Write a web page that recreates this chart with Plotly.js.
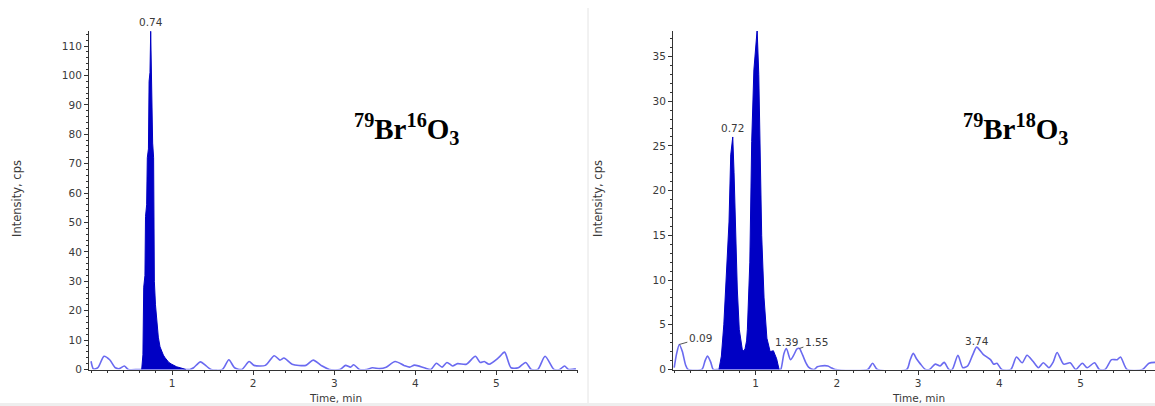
<!DOCTYPE html>
<html>
<head>
<meta charset="utf-8">
<script src="https://cdn.plot.ly/plotly-3.0.1.min.js"></script>
<style>
  html, body { margin: 0; padding: 0; background: #ffffff; }
  #chart { width: 1155px; height: 406px; }
</style>
</head>
<body>
<div id="chart"></div>
<script>
// ---------- Data (time in min, intensity in cps) ----------
// Left panel: 79Br16O3 - baseline noise
const leftNoiseT = [0.0, 0.03, 0.085, 0.16, 0.23, 0.30, 0.35, 0.41, 0.46, 0.60, 1.17, 1.22, 1.265, 1.35, 1.42, 1.48, 1.62, 1.70, 1.77, 1.86, 1.95, 2.01, 2.15, 2.26, 2.33, 2.38, 2.48, 2.65, 2.74, 2.85, 2.94, 3.07, 3.14, 3.20, 3.24, 3.31, 3.40, 3.47, 3.56, 3.64, 3.75, 3.86, 3.93, 3.99, 4.11, 4.19, 4.26, 4.33, 4.39, 4.46, 4.52, 4.63, 4.74, 4.80, 4.85, 4.91, 5.03, 5.10, 5.18, 5.27, 5.36, 5.43, 5.51, 5.60, 5.71, 5.78, 5.84, 5.89, 5.98];
const leftNoiseI = [2.8, 0.2, 0.6, 4.5, 3.3, 0.6, 0.3, 1.2, 0, 0, 0, 0, 0.6, 2.6, 1.2, 0, 0, 3.3, 0.6, 0, 2.7, 1.4, 1.4, 4.7, 3.2, 3.9, 1.8, 1.4, 3.2, 1.2, 0, 0, 1.4, 0.8, 1.6, 0, 0, 0.6, 0.3, 0.8, 2.7, 1.4, 0.8, 1.5, 0.6, 0, 2.1, 0.8, 2.4, 1.2, 2.0, 1.8, 4.5, 2.4, 2.7, 1.8, 4.1, 5.9, 0.6, 0.6, 2.4, 0, 0, 4.5, 0, 0, 1.2, 0, 0.2];
// Left panel: integrated peak (RT 0.74)
const leftPeakT = [0.625, 0.640, 0.650, 0.665, 0.672, 0.686, 0.694, 0.708, 0.716, 0.727, 0.736, 0.744, 0.752, 0.760, 0.772, 0.781, 0.795, 0.810, 0.830, 0.851, 0.872, 0.892, 0.913, 0.933, 0.960, 0.995, 1.030, 1.057, 1.100, 1.140, 1.170];
const leftPeakI = [0, 5, 28, 32, 52, 56, 72, 75, 98, 101, 115, 102, 100, 77, 72, 30, 22, 16, 11, 7.7, 6, 4.9, 4, 3.2, 2.4, 1.8, 1.3, 0.9, 0.6, 0.3, 0];

// Right panel: 79Br18O3 - baseline noise
const rightNoiseT = [0.0, 0.03, 0.063, 0.10, 0.14, 0.17, 0.34, 0.38, 0.41, 0.45, 0.48, 0.55, 1.29, 1.31, 1.35, 1.38, 1.43, 1.47, 1.51, 1.54, 1.58, 1.62, 1.66, 1.72, 1.76, 1.80, 1.89, 1.93, 1.98, 2.38, 2.44, 2.50, 2.86, 2.90, 2.94, 2.98, 3.03, 3.09, 3.14, 3.21, 3.27, 3.32, 3.38, 3.42, 3.49, 3.55, 3.61, 3.67, 3.72, 3.80, 3.89, 3.93, 3.97, 4.03, 4.14, 4.21, 4.28, 4.34, 4.41, 4.48, 4.54, 4.61, 4.66, 4.71, 4.79, 4.87, 4.94, 5.02, 5.08, 5.17, 5.23, 5.30, 5.38, 5.45, 5.49, 5.57, 5.76, 5.84, 5.92];
const rightNoiseI = [0.2, 1.8, 2.8, 2.0, 0.5, 0, 0, 1.0, 1.5, 0.8, 0, 0, 0, 0, 1.8, 2.35, 1.1, 1.6, 2.3, 2.35, 1.6, 0.75, 0.2, 0, 0.3, 0.4, 0.4, 0.2, 0, 0, 0.7, 0, 0, 1.0, 1.8, 1.2, 0.6, 0, 0, 0.6, 0.4, 0.8, 0, 0, 1.6, 0.2, 0.4, 1.6, 2.5, 1.7, 1.1, 0.6, 0.7, 0, 0, 1.4, 0.75, 1.6, 0.95, 0.2, 0.75, 0.2, 0.8, 1.9, 0.6, 0.75, 0, 0.7, 0.2, 0.75, 0, 0, 1.1, 1.1, 1.4, 0, 0, 0.7, 0.8];
// Right panel: integrated peaks (RT 0.72 and 1.02)
const rightPeakT = [0.55, 0.58, 0.61, 0.645, 0.674, 0.695, 0.72, 0.736, 0.756, 0.776, 0.80, 0.82, 0.838, 0.855, 0.871, 0.89, 0.90, 0.93, 0.953, 0.98, 1.006, 1.02, 1.04, 1.055, 1.076, 1.105, 1.14, 1.18, 1.22, 1.26, 1.29];
const rightPeakI = [0, 1.5, 5, 10.5, 16.5, 24, 26, 22, 15, 9, 4.5, 3, 2.2, 2.1, 2.3, 3.2, 4.5, 12, 25.5, 33.5, 37, 38, 33, 25, 15, 8, 3.5, 2, 2.1, 1.2, 0];

// Peak labels
const leftLabelText = ["0.74"];
const leftLabelT = [0.736];
const leftLabelI = [115];
const rightLabelText = ["0.72", "1.02", "1.39", "3.74"];
const rightLabelT = [0.72, 1.02, 1.38, 3.72];
const rightLabelI = [26, 38, 2.35, 2.5];
const rightLeaderText = ["0.09", "1.55"];
const rightLeaderT = [0.063, 1.54];
const rightLeaderI = [2.8, 2.35];

const xTickVals = [1, 2, 3, 4, 5];
const xTickText = ["1", "2", "3", "4", "5"];

// ---------- Styling ----------
const W = 1155, H = 406;
const px = v => v / W;
const py = v => (H - v) / H;
const noiseColor = '#6a6af0';
const peakColor = '#0000c4';
const axisColor = '#333333';
const textColor = '#3a3a3a';
const tickFont = {family: 'DejaVu Sans', size: 10.5, color: textColor};

const traces = [
  {x: leftNoiseT, y: leftNoiseI, xaxis: 'x', yaxis: 'y', type: 'scatter', mode: 'lines',
   line: {color: noiseColor, width: 1.6, shape: 'spline', smoothing: 0.7}, hoverinfo: 'skip'},
  {x: leftPeakT, y: leftPeakI, xaxis: 'x', yaxis: 'y', type: 'scatter', mode: 'lines',
   fill: 'tozeroy', fillcolor: peakColor, line: {color: peakColor, width: 1}, hoverinfo: 'skip'},
  {x: rightNoiseT, y: rightNoiseI, xaxis: 'x2', yaxis: 'y2', type: 'scatter', mode: 'lines',
   line: {color: noiseColor, width: 1.6, shape: 'spline', smoothing: 0.7}, hoverinfo: 'skip'},
  {x: rightPeakT, y: rightPeakI, xaxis: 'x2', yaxis: 'y2', type: 'scatter', mode: 'lines',
   fill: 'tozeroy', fillcolor: peakColor, line: {color: peakColor, width: 1}, hoverinfo: 'skip'}
];

const yDomain = [py(369.5), py(31)];

function xAxis(domain, range, anchor) {
  return {
    domain: domain, range: range, anchor: anchor,
    showgrid: false, zeroline: false, showline: true, linecolor: axisColor, linewidth: 1,
    ticks: 'outside', ticklen: 4, tickcolor: axisColor, tickwidth: 1,
    tickvals: xTickVals, ticktext: xTickText, tickfont: tickFont,
    minor: {dtick: 0.2, ticks: 'outside', ticklen: 2, tickcolor: axisColor, showgrid: false},
    fixedrange: true
  };
}
function yAxis(range, dtick, minorDtick, anchor) {
  return {
    domain: yDomain, range: range, anchor: anchor,
    showgrid: false, zeroline: false, showline: true, linecolor: axisColor, linewidth: 1,
    ticks: 'outside', ticklen: 4, tickcolor: axisColor, tickwidth: 1,
    dtick: dtick, tick0: 0, tickfont: tickFont,
    minor: {dtick: minorDtick, ticks: 'outside', ticklen: 2, tickcolor: axisColor, showgrid: false},
    fixedrange: true
  };
}

const annotations = [];
leftLabelT.forEach((t, k) => annotations.push({x: t, y: leftLabelI[k], xref: 'x', yref: 'y',
  text: leftLabelText[k], showarrow: false, xanchor: 'center', yanchor: 'middle', yshift: 9, font: tickFont}));
rightLabelT.forEach((t, k) => {
  annotations.push({x: t, y: rightLabelI[k], xref: 'x2', yref: 'y2', text: rightLabelText[k], showarrow: false,
    xanchor: 'center', yanchor: 'middle', yshift: k < 2 ? 9 : 6, font: tickFont});
});
rightLeaderT.forEach((t, k) => {
  annotations.push({x: t, y: rightLeaderI[k], xref: 'x2', yref: 'y2', text: rightLeaderText[k],
    showarrow: true, arrowhead: 0, arrowwidth: 1, arrowcolor: '#555555', standoff: 0,
    ax: k === 0 ? 21 : 17, ay: -6, font: tickFont});
});

// Axis titles
const axisTitleFont = {family: 'DejaVu Sans', size: 11.5, color: textColor};
[[17, 199], [598, 199]].forEach(p => annotations.push({
  x: px(p[0]), y: py(p[1]), xref: 'paper', yref: 'paper', text: 'Intensity, cps', textangle: -90,
  showarrow: false, xanchor: 'center', yanchor: 'middle', font: axisTitleFont}));
[[335, 398], [918.6, 398]].forEach(p => annotations.push({
  x: px(p[0]), y: py(p[1]), xref: 'paper', yref: 'paper', text: 'Time, min',
  showarrow: false, xanchor: 'center', yanchor: 'middle', font: {family: 'DejaVu Sans', size: 10.5, color: textColor}}));

// Species labels
const speciesFont = {family: 'Liberation Serif', size: 29, color: '#000000'};
annotations.push({x: px(406.5), y: py(129), xref: 'paper', yref: 'paper',
  text: '<b><sup>79</sup>Br<sup>16</sup>O<sub>3</sub></b>', showarrow: false,
  xanchor: 'center', yanchor: 'middle', font: speciesFont});
annotations.push({x: px(1015), y: py(129), xref: 'paper', yref: 'paper',
  text: '<b><sup>79</sup>Br<sup>18</sup>O<sub>3</sub></b>', showarrow: false,
  xanchor: 'center', yanchor: 'middle', font: speciesFont});

const layout = {
  width: W, height: H,
  margin: {l: 0, r: 0, t: 0, b: 0, pad: 0},
  paper_bgcolor: '#ffffff', plot_bgcolor: 'rgba(0,0,0,0)',
  showlegend: false,
  font: {family: 'DejaVu Sans', color: textColor},
  xaxis: xAxis([px(89), px(577.5)], [-0.025, 6.0], 'y'),
  yaxis: yAxis([0, 115.1], 10, 2, 'x'),
  xaxis2: xAxis([px(673), 1], [-0.015, 5.914], 'y2'),
  yaxis2: yAxis([0, 37.85], 5, 1, 'x2'),
  annotations: annotations,
  shapes: [
    {type: 'line', xref: 'paper', yref: 'paper', x0: px(588), x1: px(588), y0: 0, y1: py(8),
     line: {color: '#e4e4e4', width: 1}},
    {type: 'rect', xref: 'paper', yref: 'paper', x0: 0, x1: 1, y0: 0, y1: py(403),
     fillcolor: '#eeeeee', line: {width: 0}}
  ]
};

Plotly.newPlot('chart', traces, layout, {staticPlot: true, displayModeBar: false});
</script>
</body>
</html>
